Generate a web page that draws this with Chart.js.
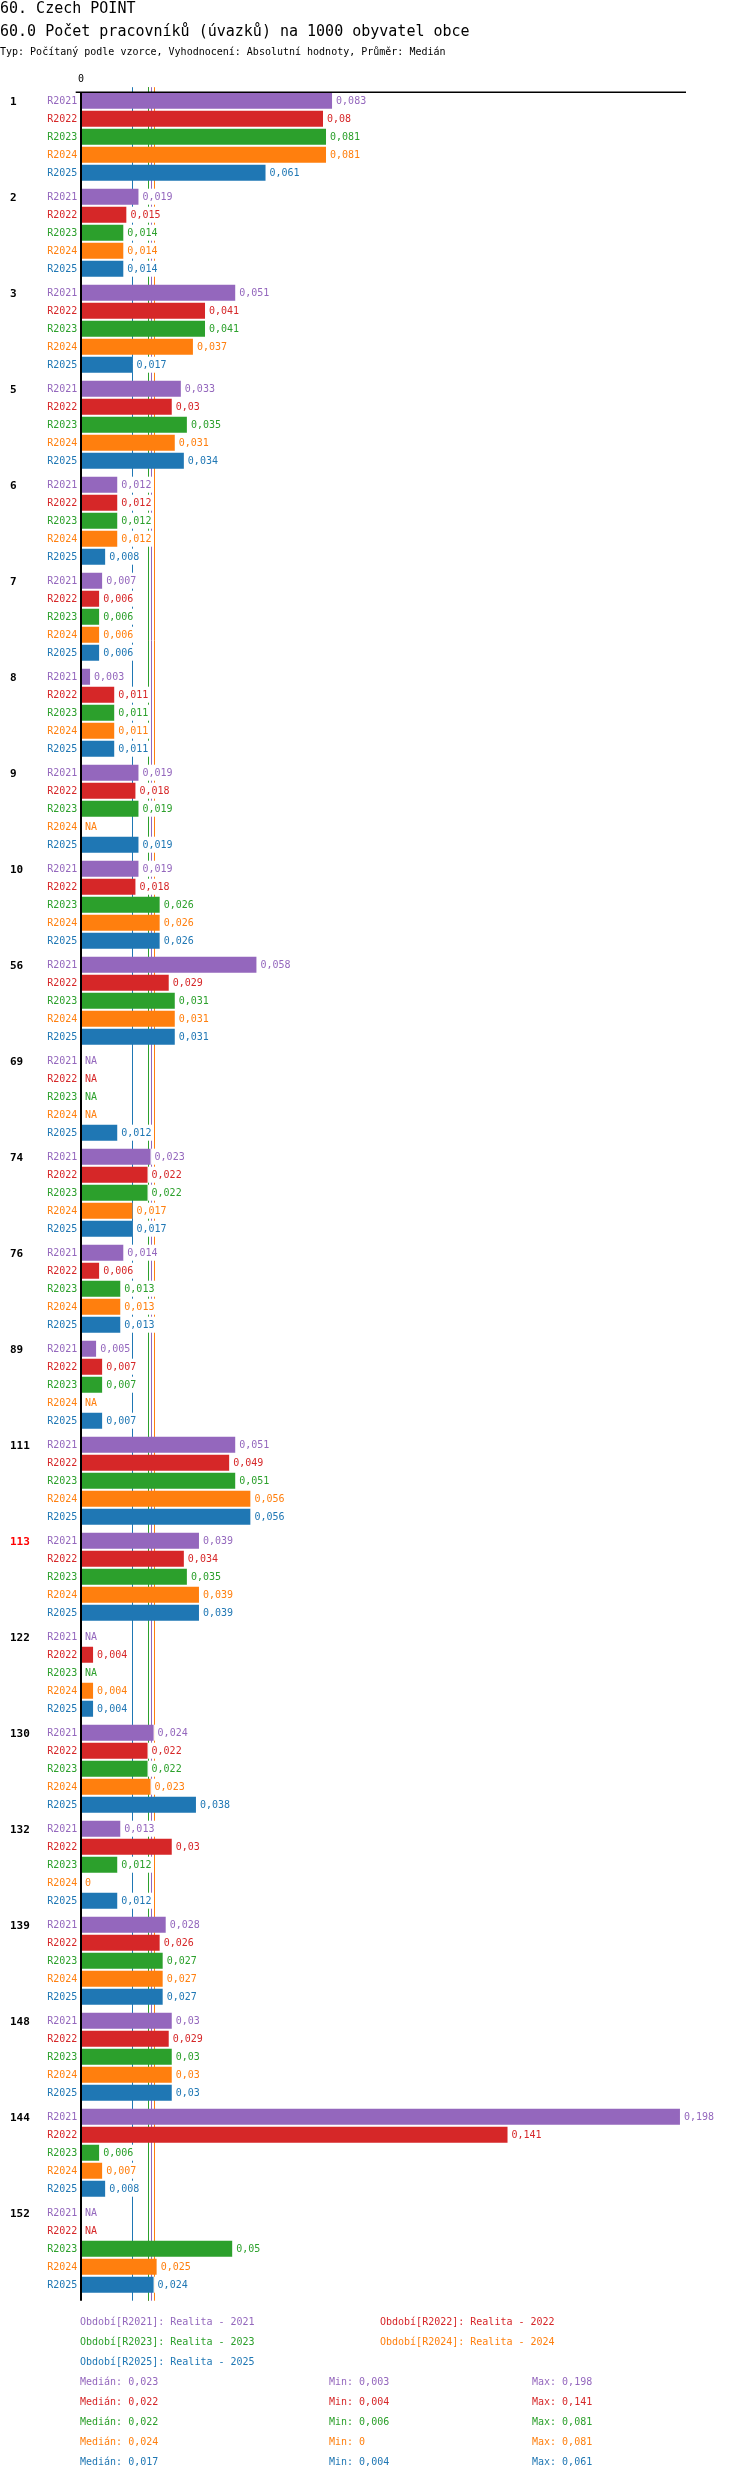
<!DOCTYPE html>
<html><head><meta charset="utf-8">
<script src="https://cdn.jsdelivr.net/npm/chart.js@4/dist/chart.umd.min.js"></script>
<style>
html,body{margin:0;padding:0;background:#fff;}
body{width:750px;height:2480px;position:relative;overflow:hidden;font-family:"DejaVu Sans Mono",monospace;}
#c{position:absolute;left:0;top:0;}
.t{position:absolute;white-space:pre;}
.s{font-size:10px;line-height:12px;}
</style></head><body>
<canvas id="c" width="750" height="2480"></canvas>
<div class="t" style="left:0;top:0;font-size:15px;line-height:17px">60. Czech POINT</div>
<div class="t" style="left:0;top:22.5px;font-size:15px;line-height:17px">60.0 Počet pracovníků (úvazků) na 1000 obyvatel obce</div>
<div class="t s" style="left:0;top:46px">Typ: Počítaný podle vzorce, Vyhodnocení: Absolutní hodnoty, Průměr: Medián</div>
<div id="legend"></div>
<script>
const groups = ['1','2','3','5','6','7','8','9','10','56','69','74','76','89','111','113','122','130','132','139','148','144','152'];
const highlightGroup = '113';
const seriesNames = ['R2021','R2022','R2023','R2024','R2025'];
const periodNames = ['Realita - 2021','Realita - 2022','Realita - 2023','Realita - 2024','Realita - 2025'];
const r2021 = [0.083,0.019,0.051,0.033,0.012,0.007,0.003,0.019,0.019,0.058,null,0.023,0.014,0.005,0.051,0.039,null,0.024,0.013,0.028,0.03,0.198,null];
const r2022 = [0.08,0.015,0.041,0.03,0.012,0.006,0.011,0.018,0.018,0.029,null,0.022,0.006,0.007,0.049,0.034,0.004,0.022,0.03,0.026,0.029,0.141,null];
const r2023 = [0.081,0.014,0.041,0.035,0.012,0.006,0.011,0.019,0.026,0.031,null,0.022,0.013,0.007,0.051,0.035,null,0.022,0.012,0.027,0.03,0.006,0.05];
const r2024 = [0.081,0.014,0.037,0.031,0.012,0.006,0.011,null,0.026,0.031,null,0.017,0.013,null,0.056,0.039,0.004,0.023,0,0.027,0.03,0.007,0.025];
const r2025 = [0.061,0.014,0.017,0.034,0.008,0.006,0.011,0.019,0.026,0.031,0.012,0.017,0.013,0.007,0.056,0.039,0.004,0.038,0.012,0.027,0.03,0.008,0.024];
const medians = [0.023,0.022,0.022,0.024,0.017];
const mins = [0.003,0.004,0.006,0,0.004];
const maxs = [0.198,0.141,0.081,0.081,0.061];
const colors = ['#9467bd','#d62728','#2ca02c','#ff7f0e','#1f77b4'];
const FONT = '"DejaVu Sans Mono", monospace';

const fmt = v => (v === null || v === undefined) ? 'NA' : String(v).replace('.', ',');

// legend + stats (HTML text)
(function(){
  const L = document.getElementById('legend');
  const add = (txt, left, cy, color) => {
    const d = document.createElement('div');
    d.className = 't s';
    d.style.left = left + 'px';
    d.style.top = (cy - 6) + 'px';
    d.style.color = color;
    d.textContent = txt;
    L.appendChild(d);
  };
  seriesNames.forEach((s, i) => {
    const row = Math.floor(i / 2), col = i % 2;
    add('Období[' + s + ']: ' + periodNames[i], col ? 380 : 80, 2322 + row * 20, colors[i]);
  });
  seriesNames.forEach((s, i) => {
    const cy = 2382 + i * 20;
    add('Medián: ' + fmt(medians[i]), 80, cy, colors[i]);
    add('Min: ' + fmt(mins[i]), 329, cy, colors[i]);
    add('Max: ' + fmt(maxs[i]), 532, cy, colors[i]);
  });
})();

const overlay = {
  id: 'overlay',
  beforeDatasetsDraw(chart) {
    const {ctx, chartArea: a, scales: {x}} = chart;
    ctx.save();
    ctx.lineWidth = 1;
    [4, 1, 2, 0, 3].forEach(i => {
      const px = Math.round(x.getPixelForValue(medians[i])) + 0.5;
      ctx.strokeStyle = colors[i];
      ctx.beginPath();
      ctx.moveTo(px, a.top - 1.5);
      ctx.lineTo(px, a.bottom + 4);
      ctx.stroke();
    });
    ctx.restore();
  },
  afterDatasetsDraw(chart) {
    const {ctx, chartArea: a, scales: {x}} = chart;
    const x0 = x.getPixelForValue(0);
    ctx.save();
    ctx.font = '10px ' + FONT;
    ctx.textBaseline = 'middle';
    chart.data.datasets.forEach((ds, i) => {
      const meta = chart.getDatasetMeta(i);
      meta.data.forEach((bar, j) => {
        const v = ds.data[j];
        const end = (v === null) ? x0 : bar.x;
        const txt = fmt(v);
        const w = ctx.measureText(txt).width;
        const h = bar.height;
        ctx.fillStyle = '#fff';
        ctx.fillRect(end + 0.5, bar.y - h / 2, w + 5, h);
        ctx.fillStyle = colors[i];
        ctx.textAlign = 'left';
        ctx.fillText(txt, end + 4, bar.y + 0.5);
        ctx.textAlign = 'right';
        ctx.fillText(seriesNames[i], x0 - 3.7, bar.y + 0.5);
      });
    });
    ctx.font = 'bold 11px ' + FONT;
    ctx.textAlign = 'left';
    const m0 = chart.getDatasetMeta(0);
    groups.forEach((g, j) => {
      ctx.fillStyle = g === highlightGroup ? '#ff0000' : '#000';
      ctx.fillText(g, 10, m0.data[j].y + 1);
    });
    ctx.strokeStyle = '#000';
    ctx.lineWidth = 1.5;
    const ly = a.top + 3.6;
    ctx.beginPath();
    ctx.moveTo(x0 - 5.3, ly);
    ctx.lineTo(a.right, ly);
    ctx.stroke();
    ctx.lineWidth = 2;
    ctx.beginPath();
    ctx.moveTo(x0, ly);
    ctx.lineTo(x0, a.bottom + 4);
    ctx.stroke();
    ctx.restore();
  }
};

const datasets = [r2021, r2022, r2023, r2024, r2025].map((d, i) => ({
  label: seriesNames[i],
  data: d,
  backgroundColor: colors[i],
  borderWidth: 0,
  categoryPercentage: 0.9375,
  barPercentage: 16 / 18
}));

new Chart(document.getElementById('c'), {
  type: 'bar',
  data: { labels: groups, datasets },
  options: {
    indexAxis: 'y',
    responsive: false,
    devicePixelRatio: 1,
    animation: false,
    layout: { padding: { left: 81, right: 64, top: 68.7, bottom: 183.3 } },
    plugins: { legend: { display: false }, tooltip: { enabled: false }, title: { display: false } },
    scales: {
      x: {
        type: 'linear',
        position: 'top',
        min: 0,
        max: 0.2,
        grid: { display: false, drawTicks: false },
        border: { display: false },
        afterBuildTicks: s => { s.ticks = [{ value: 0 }]; },
        afterFit: s => { s.height = 20; },
        ticks: { padding: 3, color: '#000', font: { family: FONT, size: 10 }, callback: v => String(v) }
      },
      y: { type: 'category', display: false, grid: { display: false } }
    }
  },
  plugins: [overlay]
});
</script>
</body></html>
